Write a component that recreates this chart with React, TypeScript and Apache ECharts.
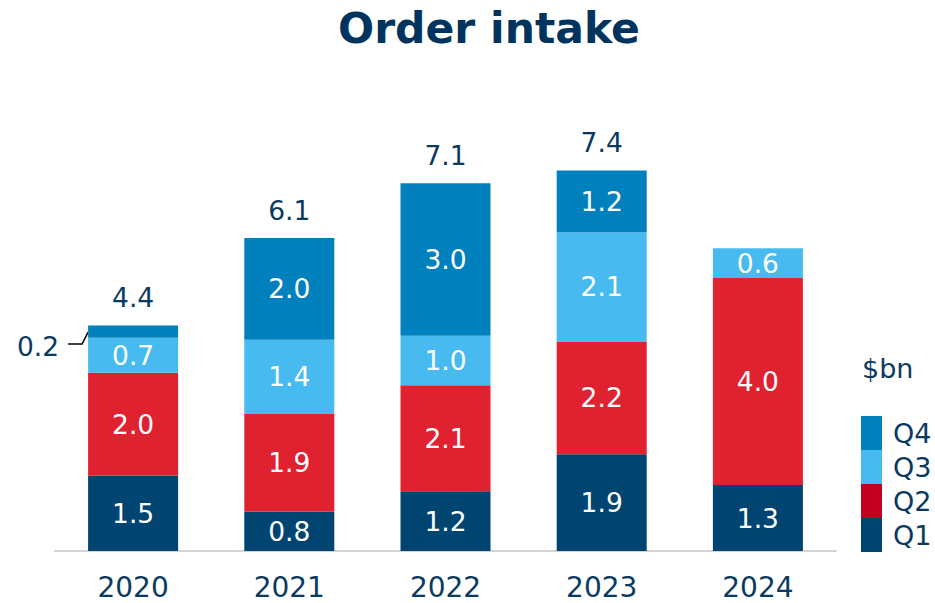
import React, { useEffect, useRef } from "react";
import * as echarts from "echarts";

const years = ["2020", "2021", "2022", "2023", "2024"];
const q1 = [1.46, 0.76, 1.16, 1.88, 1.28];
const q2 = [2.0, 1.9, 2.06, 2.19, 4.02];
const q3 = [0.68, 1.44, 0.96, 2.12, 0.58];
const q4: (number | null)[] = [0.24, 1.98, 2.96, 1.2, null];
const totals: (number | null)[] = [4.4, 6.1, 7.1, 7.4, null];

const NAVY = "#0B3A60";
const FONT = "DejaVu Sans";
const BAR_W = 90;

export default function App() {
  const ref = useRef<HTMLDivElement>(null);
  useEffect(() => {
    document.body.style.margin = "0";
    const chart = echarts.init(ref.current!, null, { renderer: "svg" });
    const inner = {
      show: true,
      position: "inside" as const,
      color: "#fff",
      fontSize: 26.5,
      fontFamily: FONT,
      formatter: (p: any) => (p.value == null ? "" : Number(p.value).toFixed(1)),
    };
    chart.setOption({
      animation: false,
      title: {
        text: "Order intake",
        left: 333,
        top: 2,
        textStyle: { fontSize: 42.5, fontWeight: "bold", color: "#00345E", fontFamily: FONT },
      },
      grid: { left: 55, right: 99, top: 139, bottom: 52 },
      legend: {
        orient: "vertical",
        left: 861,
        top: 416,
        padding: 0,
        itemWidth: 21,
        itemHeight: 34,
        itemGap: 0,
        icon: "rect",
        textStyle: { fontSize: 27, color: NAVY, fontFamily: FONT, padding: [0, 0, 0, 6] },
        data: [
          { name: "Q4" },
          { name: "Q3" },
          { name: "Q2", itemStyle: { color: "#C4001F" } },
          { name: "Q1" },
        ],
      },
      xAxis: {
        type: "category",
        data: years,
        axisTick: { show: false },
        axisLine: { lineStyle: { color: "#D3D3D3", width: 2 } },
        axisLabel: { fontSize: 28, color: NAVY, fontFamily: FONT, margin: 22 },
      },
      yAxis: { type: "value", min: 0, max: 8, show: false, splitLine: { show: false } },
      series: [
        { name: "Q1", type: "bar", stack: "a", barWidth: BAR_W, data: q1, itemStyle: { color: "#004571" }, label: inner },
        { name: "Q2", type: "bar", stack: "a", data: q2, itemStyle: { color: "#E02130" }, label: inner },
        { name: "Q3", type: "bar", stack: "a", data: q3, itemStyle: { color: "#47BBF0" }, label: inner },
        {
          name: "Q4",
          type: "bar",
          stack: "a",
          data: q4.map((v, i) =>
            i === 0
              ? {
                  value: v,
                  label: { show: true, position: "left", color: NAVY, distance: 29, offset: [0, 15] },
                }
              : v
          ),
          itemStyle: { color: "#0080BD" },
          label: inner,
        },
        {
          name: "total",
          type: "bar",
          stack: "a",
          data: years.map(() => 0),
          silent: true,
          label: {
            show: true,
            position: "top",
            distance: 14,
            color: NAVY,
            fontSize: 26.5,
            fontFamily: FONT,
            formatter: (p: any) => (totals[p.dataIndex] == null ? "" : totals[p.dataIndex]!.toFixed(1)),
          },
        },
      ],
    });
    // leader line for the small 2020 Q4 segment, placed through the chart's own scales
    const base = q1[0] + q2[0] + q3[0];
    const mid = base + (q4[0] as number) / 2;
    const p = chart.convertToPixel({ seriesIndex: 3 }, [0, mid]) as number[];
    const L = p[0] - BAR_W / 2;
    const y = p[1];
    chart.setOption({
      graphic: [
        {
          type: "text",
          left: 862,
          top: 355,
          style: { text: "$bn", fontSize: 27, fill: NAVY, fontFamily: FONT },
        },
        {
          type: "polyline",
          shape: { points: [[L - 20, y + 12.5], [L - 6, y + 12.5], [L, y + 0.5]] },
          style: { stroke: "#000", lineWidth: 1.5, fill: "none" },
        },
      ],
    });
    return () => chart.dispose();
  }, []);
  return <div ref={ref} style={{ width: 935, height: 603 }} />;
}
